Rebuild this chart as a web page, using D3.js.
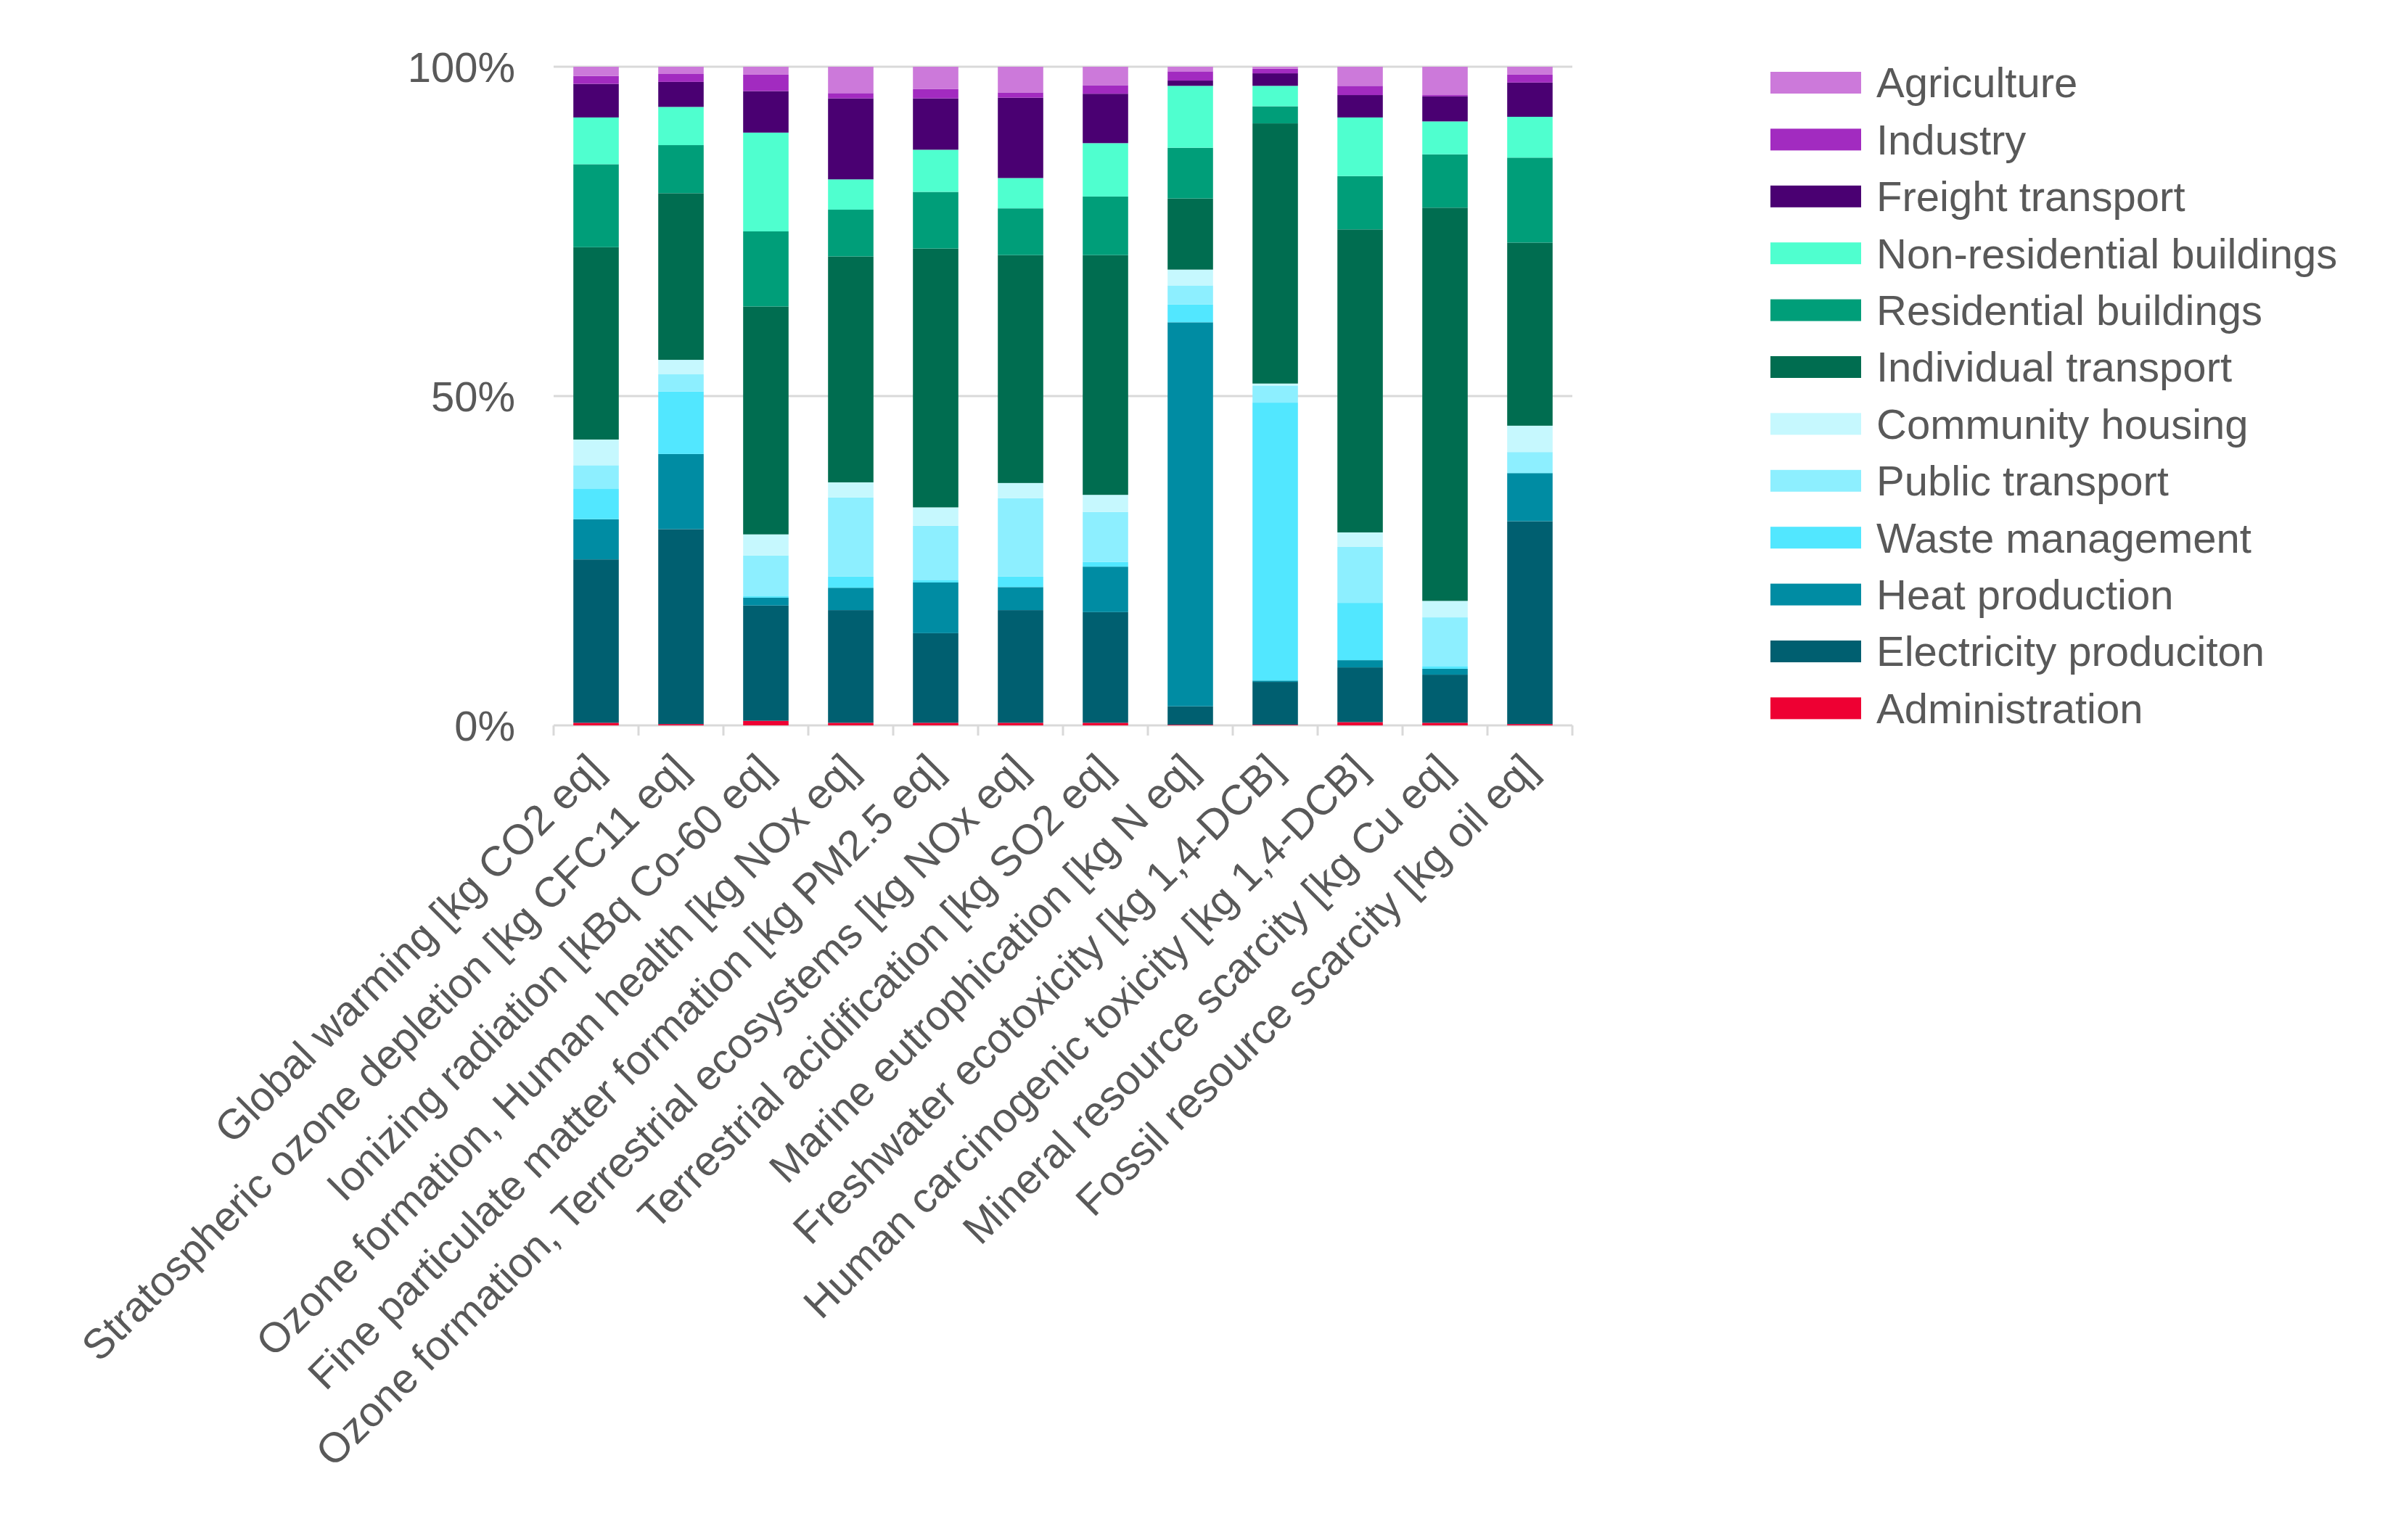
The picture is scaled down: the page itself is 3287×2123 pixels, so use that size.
<!DOCTYPE html>
<html>
<head>
<meta charset="utf-8">
<script src="https://cdn.jsdelivr.net/npm/d3@7"></script>
<style>
  body { margin: 0; background: #fff; }
  svg text { font-family: "Liberation Sans", Arial, sans-serif; fill: #595959; }
</style>
</head>
<body>
<div id="chart"></div>
<script>
// categories on the x axis
var categories = [
  "Global warming [kg CO2 eq]",
  "Stratospheric ozone depletion [kg CFC11 eq]",
  "Ionizing radiation [kBq Co-60 eq]",
  "Ozone formation, Human health [kg NOx eq]",
  "Fine particulate matter formation [kg PM2.5 eq]",
  "Ozone formation, Terrestrial ecosystems [kg NOx eq]",
  "Terrestrial acidification [kg SO2 eq]",
  "Marine eutrophication [kg N eq]",
  "Freshwater ecotoxicity [kg 1,4-DCB]",
  "Human carcinogenic toxicity [kg 1,4-DCB]",
  "Mineral resource scarcity [kg Cu eq]",
  "Fossil resource scarcity [kg oil eq]"
];

// series, bottom of the stack first
var seriesNames = [
  "Administration", "Electricity produciton", "Heat production", "Waste management",
  "Public transport", "Community housing", "Individual transport", "Residential buildings",
  "Non-residential buildings", "Freight transport", "Industry", "Agriculture"
];
var seriesColors = [
  "#ee0033", "#005f70", "#008ca3", "#52e7ff",
  "#8defff", "#c6f8fe", "#006d50", "#009e79",
  "#4fffcf", "#4a0072", "#a22bc0", "#cc79da"
];

// shares in % per category
var administration = [0.4, 0.2, 0.7, 0.4, 0.4, 0.4, 0.4, 0.1, 0.1, 0.5, 0.4, 0.2];
var electricity    = [24.8, 29.6, 17.5, 17.1, 13.6, 17.1, 16.8, 2.8, 6.5, 8.3, 7.3, 30.8];
var heat           = [6.1, 11.4, 1.2, 3.4, 7.7, 3.5, 6.9, 58.3, 0.2, 1.1, 0.9, 7.3];
var waste          = [4.6, 9.5, 0.2, 1.7, 0.4, 1.6, 0.7, 2.7, 42.2, 8.7, 0.4, 0.1];
var publicTr       = [3.6, 2.6, 6.2, 12.0, 8.2, 11.9, 7.6, 2.9, 2.6, 8.5, 7.4, 3.1];
var community      = [3.9, 2.2, 3.2, 2.3, 2.8, 2.3, 2.6, 2.4, 0.3, 2.2, 2.5, 4.0];
var individual     = [29.2, 25.3, 34.6, 34.3, 39.3, 34.6, 36.4, 10.8, 39.5, 46.0, 59.7, 27.8];
var residential    = [12.6, 7.3, 11.4, 7.1, 8.6, 7.1, 8.9, 7.7, 2.6, 8.1, 8.1, 12.9];
var nonResidential = [7.1, 5.8, 15.0, 4.6, 6.4, 4.6, 8.1, 9.4, 3.1, 8.9, 5.0, 6.2];
var freight        = [5.1, 3.8, 6.3, 12.3, 7.8, 12.2, 7.5, 0.8, 1.9, 3.4, 3.8, 5.2];
var industry       = [1.2, 1.2, 2.5, 0.8, 1.4, 0.8, 1.3, 1.4, 0.7, 1.4, 0.2, 1.2];
var agriculture    = [1.4, 1.1, 1.2, 4.0, 3.4, 3.9, 2.8, 0.7, 0.3, 2.9, 4.3, 1.2];

var yTicks = [0, 0.5, 1];

var seriesValues = [administration, electricity, heat, waste, publicTr, community,
  individual, residential, nonResidential, freight, industry, agriculture];

var table = categories.map(function(c, i) {
  var row = { cat: c };
  var total = 0;
  seriesNames.forEach(function(s, j) { total += seriesValues[j][i]; });
  seriesNames.forEach(function(s, j) { row[s] = seriesValues[j][i] / total; });
  return row;
});

var W = 3287, H = 2123;
var plotLeft = 763, plotRight = 2167, plotTop = 92, plotBottom = 1000;
var fs = 58;

var svg = d3.select("#chart").append("svg")
  .attr("width", W).attr("height", H);

var x = d3.scaleBand().domain(categories).range([plotLeft, plotRight])
  .paddingInner(0.465).paddingOuter(0.2325);
var y = d3.scaleLinear().domain([0, 1]).range([plotBottom, plotTop]);

// gridlines
svg.append("g")
  .selectAll("line").data(yTicks).enter().append("line")
  .attr("x1", plotLeft).attr("x2", plotRight)
  .attr("y1", function(d) { return y(d); }).attr("y2", function(d) { return y(d); })
  .attr("stroke", "#d9d9d9").attr("stroke-width", 3);

// y labels
var yAxis = svg.append("g")
  .attr("transform", "translate(" + (plotLeft - 50) + ",0)")
  .call(d3.axisLeft(y).tickValues(yTicks).tickFormat(d3.format(".0%")).tickSize(0));
yAxis.select(".domain").remove();
yAxis.selectAll("text")
  .attr("font-size", fs).attr("dy", "0.35em")
  .style("font-family", "'Liberation Sans', Arial, sans-serif").attr("fill", "#595959");

// stacked bars
var stack = d3.stack().keys(seriesNames);
var layers = stack(table);

svg.append("g").selectAll("g")
  .data(layers).enter().append("g")
  .attr("fill", function(d, i) { return seriesColors[i]; })
  .selectAll("rect")
  .data(function(d) { return d; }).enter().append("rect")
  .attr("x", function(d) { return x(d.data.cat); })
  .attr("width", x.bandwidth())
  .attr("y", function(d) { return y(d[1]); })
  .attr("height", function(d) { return y(d[0]) - y(d[1]); });

// category tick marks on the bottom axis
var step = x.step();
var bounds = categories.map(function(c) { return x(c) + x.bandwidth() / 2 - step / 2; });
bounds.push(plotRight);
svg.append("g").selectAll("line").data(bounds).enter().append("line")
  .attr("x1", function(d) { return d; }).attr("x2", function(d) { return d; })
  .attr("y1", plotBottom).attr("y2", plotBottom + 14)
  .attr("stroke", "#d9d9d9").attr("stroke-width", 3);

// rotated category labels
svg.append("g").selectAll("text").data(categories).enter().append("text")
  .attr("transform", function(d) {
    var cx = x(d) + x.bandwidth() / 2 + 14;
    return "translate(" + cx + "," + (plotBottom + 64) + ")rotate(-45)";
  })
  .attr("text-anchor", "end")
  .attr("font-size", fs)
  .text(function(d) { return d; });

// legend, top entry = last series
var legendOrder = seriesNames.slice().reverse();
var legendColors = seriesColors.slice().reverse();
var leg = svg.append("g").selectAll("g")
  .data(legendOrder).enter().append("g")
  .attr("transform", function(d, i) { return "translate(2440," + (114 + i * 78.4) + ")"; });
leg.append("rect")
  .attr("x", 0).attr("y", -15).attr("width", 125).attr("height", 30)
  .attr("fill", function(d, i) { return legendColors[i]; });
leg.append("text")
  .attr("x", 146).attr("y", 0).attr("dy", "0.35em")
  .attr("font-size", fs)
  .text(function(d) { return d; });
</script>
</body>
</html>
